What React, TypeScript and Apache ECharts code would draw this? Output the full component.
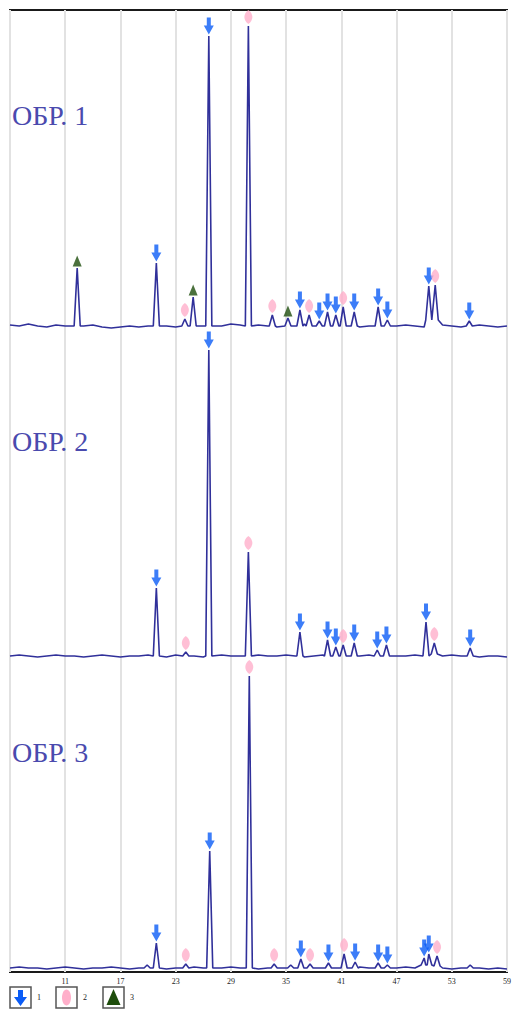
import React, { useEffect, useRef } from "react";
import * as echarts from "echarts";

// [2θ, peak height above background, phase (0 none, 1 arrow, 2 diamond, 3 triangle), local background]
type Peak = [number, number, number, number?];

const X_MIN = 5;
const X_MAX = 59;
const X_STEP = 6;
const Y_MAX = 962;

const SAMPLE_NAMES = ["ОБР. 1", "ОБР. 2", "ОБР. 3"];
const SAMPLE_OFFSETS = [643, 313, 1];
const LEGEND_LABELS = ["1", "2", "3"];

// background readings every 1° from 5° to 59°
const BACKGROUND_1 = [4, 3, 5, 3, 2, 4, 3, 2, 3, 4, 2, 1, 2, 3, 2, 3, 4, 3, 2, 3, 4, 3, 4, 3, 5, 4, 3, 4, 3, 2, 4, 3, 5, 3, 4, 3, 4, 3, 2, 3, 3, 2, 3, 4, 3, 2, 3, 4, 3, 2, 3, 4, 3, 2, 3];
const BACKGROUND_2 = [3, 4, 3, 2, 3, 4, 3, 3, 2, 3, 4, 3, 2, 3, 3, 4, 3, 2, 4, 3, 3, 2, 3, 4, 3, 3, 2, 4, 3, 3, 4, 3, 2, 3, 4, 3, 3, 2, 3, 4, 3, 2, 3, 3, 4, 3, 2, 3, 4, 3, 3, 2, 3, 3, 2];
const BACKGROUND_3 = [3, 4, 3, 3, 2, 3, 4, 3, 2, 3, 3, 4, 3, 2, 3, 5, 3, 2, 3, 3, 4, 3, 2, 3, 4, 3, 3, 2, 3, 4, 3, 3, 2, 4, 3, 3, 2, 3, 4, 3, 2, 3, 3, 4, 3, 4, 5, 3, 2, 3, 6, 3, 2, 3, 2];

const PEAKS_1: Peak[] = [
  [12.3, 58, 3], [20.9, 63, 1], [24.0, 7, 2], [24.9, 29, 3], [26.6, 290, 1],
  [30.9, 300, 2], [33.5, 11, 2], [35.2, 8, 3], [36.5, 16, 1], [37.5, 11, 2],
  [38.6, 5, 1], [39.5, 14, 1], [40.4, 11, 1], [41.2, 19, 2], [42.4, 14, 1],
  [45.0, 19, 1], [46.0, 6, 1], [50.5, 40, 1, 9], [51.2, 41, 2, 9], [54.9, 5, 1],
];
const PEAKS_2: Peak[] = [
  [20.9, 68, 1], [24.1, 4, 2], [26.6, 306, 1], [30.9, 104, 2], [36.5, 24, 1],
  [39.5, 16, 1], [40.4, 9, 1], [41.2, 11, 2], [42.4, 13, 1], [44.9, 6, 1],
  [45.9, 11, 1], [50.2, 34, 1], [51.1, 13, 2, 5], [55.0, 8, 1],
];
const PEAKS_3: Peak[] = [
  [19.9, 3, 0], [20.9, 25, 1], [24.1, 4, 2], [26.7, 117, 1], [31.0, 292, 2],
  [33.7, 4, 2], [35.5, 3, 0], [36.6, 9, 1], [37.6, 4, 2], [39.6, 5, 1],
  [41.3, 14, 2], [42.5, 6, 1], [45.0, 5, 1], [46.0, 3, 1], [50.0, 10, 1, 6],
  [50.5, 14, 1, 6], [51.4, 12, 2, 5], [55.0, 3, 0],
];

const BACKGROUNDS = [BACKGROUND_1, BACKGROUND_2, BACKGROUND_3];
const PEAKS = [PEAKS_1, PEAKS_2, PEAKS_3];

const HALF_WIDTH = 0.33;
const DEFAULT_BG = 3;

const LINE_COLOR = "#30309a";
const ARROW_COLOR = "#0b5cf6";
const DIAMOND_COLOR = "#ffafca";
const TRIANGLE_COLOR = "#1e4d0c";
const LABEL_COLOR = "#4a4aae";

const ARROW_PATH = "path://M3,0H7V8H10L5,17L0,8H3Z";
const DIAMOND_PATH = "path://M5,0C8.5,4 8.5,10 5,14C1.5,10 1.5,4 5,0Z";

function buildTrace(idx: number): [number, number][] {
  const off = SAMPLE_OFFSETS[idx];
  const peaks = PEAKS[idx];
  const pts: [number, number][] = [];
  BACKGROUNDS[idx].forEach((v, i) => {
    const x = X_MIN + i;
    if (!peaks.some((p) => Math.abs(p[0] - x) < HALF_WIDTH + 0.1)) pts.push([x, off + v]);
  });
  peaks.forEach((p) => {
    const bg = p[3] ?? DEFAULT_BG;
    pts.push([p[0] - HALF_WIDTH, off + bg]);
    pts.push([p[0], off + DEFAULT_BG + p[1]]);
    pts.push([p[0] + HALF_WIDTH, off + bg]);
  });
  pts.sort((a, b) => a[0] - b[0]);
  return pts;
}

function markers(phase: number): [number, number][] {
  const out: [number, number][] = [];
  PEAKS.forEach((peaks, idx) => {
    peaks.forEach((p) => {
      if (p[2] === phase) out.push([p[0], SAMPLE_OFFSETS[idx] + DEFAULT_BG + p[1]]);
    });
  });
  return out;
}

export default function App() {
  const ref = useRef<HTMLDivElement>(null);
  useEffect(() => {
    if (!ref.current) return;
    const chart = echarts.init(ref.current, undefined, { renderer: "svg" });
    const labelY = [117, 443, 754];
    const legendX = [10, 56, 103];
    const option: any = {
      animation: false,
      backgroundColor: "#ffffff",
      grid: {
        left: 10, width: 501, top: 10, bottom: 38,
        show: true, borderColor: "#1a1a1a", borderWidth: 2,
      },
      xAxis: {
        type: "value", min: X_MIN, max: X_MAX, interval: X_STEP,
        axisLine: { show: false }, axisTick: { show: false },
        axisLabel: {
          fontSize: 8, fontFamily: "Liberation Serif", color: "#222", margin: 5,
          formatter: (v: number) => (v === X_MIN ? "" : String(v)),
        },
        splitLine: { show: true, lineStyle: { color: "#e2e2e2", width: 2 } },
      },
      yAxis: {
        type: "value", min: 0, max: Y_MAX, show: false, splitLine: { show: false },
      },
      series: [
        ...SAMPLE_NAMES.map((name, i) => ({
          type: "line", name, data: buildTrace(i), showSymbol: false, symbol: "none",
          lineStyle: { color: LINE_COLOR, width: 1.6 }, z: 2,
        })),
        {
          type: "scatter", data: markers(1), symbol: ARROW_PATH, symbolSize: [10, 17],
          symbolOffset: [0, -10], itemStyle: { color: ARROW_COLOR }, z: 5,
        },
        {
          type: "scatter", data: markers(2), symbol: DIAMOND_PATH, symbolSize: [8, 14],
          symbolOffset: [0, -9], itemStyle: { color: DIAMOND_COLOR }, z: 5,
        },
        {
          type: "scatter", data: markers(3), symbol: "triangle", symbolSize: [9, 11],
          symbolOffset: [0, -7], itemStyle: { color: TRIANGLE_COLOR }, z: 5,
        },
      ],
      graphic: [
        ...SAMPLE_NAMES.map((name, i) => ({
          type: "text", left: 12, top: labelY[i] - 16,
          style: { text: name, font: '28px "Liberation Serif"', fill: LABEL_COLOR },
          z: 10,
        })),
        ...legendX.map((x) => ({
          type: "rect", shape: { x: x, y: 987, width: 21, height: 21 },
          style: { fill: "#fff", stroke: "#555", lineWidth: 1.5 }, z: 10,
        })),
        {
          type: "polygon",
          shape: { points: [[18, 990], [23, 990], [23, 997], [27, 997], [20.5, 1006], [14, 997], [18, 997]] },
          style: { fill: ARROW_COLOR }, z: 11,
        },
        {
          type: "ellipse", shape: { cx: 66.5, cy: 997.5, rx: 4.5, ry: 8 },
          style: { fill: DIAMOND_COLOR }, z: 11,
        },
        {
          type: "polygon", shape: { points: [[113.5, 989], [106.5, 1005], [120.5, 1005]] },
          style: { fill: TRIANGLE_COLOR }, z: 11,
        },
        ...LEGEND_LABELS.map((t, i) => ({
          type: "text", left: legendX[i] + 27, top: 993,
          style: { text: t, font: '8px "Liberation Serif"', fill: "#222" }, z: 11,
        })),
      ],
    };
    chart.setOption(option);
    return () => chart.dispose();
  }, []);
  return (
    <div
      ref={ref}
      style={{ position: "absolute", left: 0, top: 0, width: 514, height: 1010 }}
    />
  );
}
